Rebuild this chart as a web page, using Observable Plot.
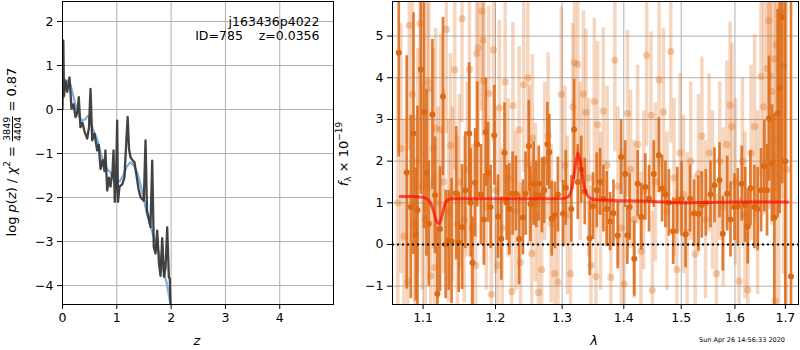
<!DOCTYPE html>
<html><head><meta charset="utf-8">
<script src="https://cdn.jsdelivr.net/npm/d3@7"></script>
<script src="https://cdn.jsdelivr.net/npm/@observablehq/plot@0.6"></script>
<style>
body{margin:0;background:#fff;}
#fig{position:relative;width:800px;height:350px;font-family:"DejaVu Sans",sans-serif;color:#000;overflow:hidden;background:#fff}
.panel{position:absolute;top:0}
.lbl{position:absolute;font-size:13px;white-space:nowrap;line-height:1}
.rot{transform:translate(-50%,-50%) rotate(-90deg);}
.ctr{transform:translate(-50%,-50%);}
.frac{display:inline-flex;flex-direction:column;vertical-align:middle;font-size:9.5px;line-height:1;text-align:center;margin:0 1px}
.frac .den{border-top:0.8px solid #000}
sup,sub{font-size:9px;line-height:0}
</style></head><body><div id="fig"></div>
<script>
// ---------- Left panel: redshift PDF ----------
const zTicks = [0, 1, 2, 3, 4];
const pTicks = [-4, -3, -2, -1, 0, 1, 2];
const zBlack = [0.000,0.015,0.028,0.055,0.087,0.129,0.166,0.203,0.240,0.276,0.300,0.330,0.368,0.405,0.455,0.488,0.516,0.547,0.589,0.639,0.668,0.700,0.737,0.773,0.790,0.823,0.856,0.884,0.921,0.939,0.963,0.985,1.007,1.022,1.050,1.100,1.140,1.180,1.200,1.225,1.252,1.289,1.326,1.363,1.400,1.436,1.497,1.529,1.556,1.593,1.620,1.652,1.681,1.713,1.744,1.777,1.805,1.836,1.869,1.897,1.928,1.958,1.976,1.989];
const logpBlack = [0.00,1.57,0.30,0.66,0.40,0.73,0.02,0.12,-0.17,-0.05,0.28,-0.40,-0.30,-0.50,-0.66,-0.40,0.47,-0.70,-0.55,-0.93,-0.80,-1.35,-1.15,-1.40,-0.93,-1.84,-1.55,-1.75,-1.40,-0.93,-2.10,-1.60,-0.25,-2.10,-1.75,-1.70,-1.55,-0.60,-0.17,-0.90,-1.08,-1.15,-1.20,-1.50,-1.80,-1.99,-2.07,-0.70,-2.30,-2.50,-2.67,-1.16,-3.13,-3.27,-2.75,-3.50,-3.78,-2.92,-3.80,-3.60,-2.68,-3.80,-3.85,-4.45];
const zSmooth = [0.00,0.02,0.06,0.10,0.15,0.20,0.25,0.30,0.36,0.42,0.47,0.52,0.58,0.64,0.70,0.76,0.82,0.88,0.94,1.00,1.06,1.12,1.18,1.25,1.32,1.38,1.44,1.50,1.56,1.62,1.68,1.74,1.80,1.86,1.92,1.97,2.00];
const logpSmooth = [0.30,0.45,0.60,0.66,0.55,0.30,0.05,-0.15,-0.25,-0.22,-0.14,-0.30,-0.50,-0.68,-0.98,-1.20,-1.35,-1.42,-1.58,-1.65,-1.62,-1.50,-1.30,-1.20,-1.28,-1.45,-1.72,-2.05,-2.40,-2.65,-2.90,-3.10,-3.35,-3.65,-3.95,-4.30,-4.45];
const annotName = "j163436p4022";
const annotId = "ID=785\u00a0\u00a0\u00a0\u00a0z=0.0356";

// ---------- Right panel: spectrum ----------
const lamTicks = [1.1, 1.2, 1.3, 1.4, 1.5, 1.6, 1.7];
const fTicks = [-1, 0, 1, 2, 3, 4, 5];
const lamDark = [1.0683,1.0786,1.0839,1.0874,1.0904,1.0926,1.0970,1.1013,1.1045,1.1075,
1.1124,1.1159,1.1191,1.1226,1.1266,1.1302,1.1343,1.1383,1.1446,1.1481,
1.1528,1.1572,1.1627,1.1647,1.1672,1.1709,1.1740,1.1791,1.1833,1.1861,
1.1893,1.1930,1.1982,1.2037,1.2084,1.2131,1.2162,1.2201,1.2249,1.2297,
1.2345,1.2402,1.2442,1.2490,1.2515,1.2563,1.2603,1.2640,1.2688,1.2722,
1.2772,1.2802,1.2838,1.2888,1.2934,1.3015,1.3057,1.3144,1.3188,1.3247,
1.3302,1.3358,1.3438,1.3492,1.3552,1.3606,1.3661,1.3716,1.3771,1.3827,
1.3899,1.3955,1.4023,1.4060,1.4098,1.4177,1.4235,1.4297,1.4366,1.4431,
1.4513,1.4601,1.4659,1.4718,1.4779,1.4856,1.4928,1.5006,1.5079,1.5160,
1.5233,1.5313,1.5375,1.5449,1.5537,1.5612,1.5706,1.5769,1.5852,1.5915,
1.5992,1.6055,1.6132,1.6198,1.6248,1.6301,1.6379,1.6444,1.6511,1.6576,
1.6630,1.6670,1.6730,1.6776,1.6842,1.6883,1.6937,1.6998,1.7115];
const fluxDark = [4.6,1.73,0.9,2.66,0.24,0.82,4.2,3.18,1.72,0.5,
3.12,1.18,-1.18,0.37,3.55,0.0,0.1,0.08,1.23,0.05,
0.42,1.3,2.66,1.0,-0.44,1.48,2.4,1.2,0.6,2.69,
1.73,0.9,2.62,0.67,0.14,2.2,1.0,0.85,1.22,1.22,
0.13,0.65,1.22,2.36,0.97,1.46,1.2,1.46,1.18,1.3,
2.41,2.22,0.62,0.7,1.2,0.74,1.36,0.85,2.76,1.5,
1.8,1.27,0.15,0.92,1.3,1.5,1.1,0.85,0.55,0.75,
0.215,2.1,1.69,0.22,0.9,-0.34,1.46,0.66,1.38,1.1,
1.69,2.14,1.34,1.2,1.0,0.32,1.05,1.1,0.24,1.1,
0.75,0.74,0.95,1.0,1.2,1.42,1.54,0.26,1.22,0.6,
0.9,0.92,1.46,0.95,0.43,1.35,0.9,0.85,1.3,1.88,
1.3,3.02,1.95,0.64,3.14,3.74,5.46,2.0,-0.77];
const errDark = [2.5,2.8,2.2,2.9,1.6,2.5,3.0,2.8,2.0,1.5,
1.8,1.4,1.6,1.5,1.9,1.3,1.2,1.5,1.6,1.2,
1.5,1.4,1.7,1.3,1.1,1.3,1.5,1.2,1.1,1.3,
1.2,1.0,1.2,1.0,1.0,1.2,0.9,1.1,1.0,0.9,
1.1,0.9,1.0,1.1,0.9,1.0,0.8,0.9,0.9,0.8,
1.0,0.9,0.9,0.8,0.9,0.8,0.9,0.8,1.2,0.9,
0.8,0.8,0.9,0.8,0.9,0.8,0.8,0.9,0.7,0.8,
0.8,0.9,0.8,0.7,0.8,0.9,0.8,0.8,0.8,0.8,
0.8,0.9,0.8,0.8,0.8,0.8,0.8,0.9,0.8,0.8,
0.8,0.9,0.8,0.8,0.8,0.9,0.9,0.9,0.9,0.9,
0.8,0.9,0.9,0.9,0.9,0.9,1.0,1.0,1.0,1.1,
1.1,1.5,1.4,2.5,2.5,3.0,4.0,5.0,8.0];
const lamLight = [1.0671,1.0710,1.0750,1.0797,1.0818,1.0861,1.0891,1.0930,1.0961,1.0989,
1.1029,1.1058,1.1075,1.1102,1.1135,1.1155,1.1168,1.1201,1.1235,1.1275,
1.1311,1.1342,1.1369,1.1395,1.1427,1.1463,1.1490,1.1527,1.1558,1.1598,
1.1630,1.1668,1.1718,1.1732,1.1754,1.1801,1.1823,1.1833,1.1868,1.1903,
1.1940,1.1972,1.2000,1.2032,1.2056,1.2098,1.2140,1.2182,1.2235,1.2254,
1.2297,1.2345,1.2365,1.2413,1.2475,1.2500,1.2534,1.2545,1.2590,1.2635,
1.2684,1.2732,1.2784,1.2830,1.2886,1.2936,1.2987,1.3043,1.3082,1.3132,
1.3168,1.3194,1.3247,1.3286,1.3337,1.3378,1.3421,1.3459,1.3513,1.3539,
1.3567,1.3615,1.3659,1.3721,1.3784,1.3850,1.3903,1.3958,1.4007,1.4063,
1.4114,1.4174,1.4234,1.4291,1.4338,1.4390,1.4465,1.4488,1.4541,1.4606,
1.4683,1.4745,1.4813,1.4871,1.4921,1.4979,1.5043,1.5108,1.5173,1.5253,
1.5313,1.5378,1.5444,1.5510,1.5576,1.5648,1.5710,1.5777,1.5844,1.5906,
1.5941,1.6009,1.6081,1.6146,1.6194,1.6250,1.6313,1.6382,1.6442,1.6508,
1.6561,1.6628,1.6662,1.6692,1.6722,1.6783,1.6797,1.6809,1.6864,1.6919,
1.6966,1.7020];
const fluxLight = [1.0,2.3,0.2,-0.9,5.26,3.6,0.5,2.0,5.3,1.4,
0.6,3.9,3.74,-0.75,2.3,-0.55,2.79,1.0,2.75,1.5,
5.16,0.8,2.38,1.2,4.19,0.5,1.5,5.42,0.6,1.8,
4.2,0.4,-0.5,4.58,4.72,5.6,4.9,3.93,0.9,3.62,
-1.2,4.67,1.3,-0.5,3.28,0.4,3.9,1.6,-1.13,3.33,
0.8,2.75,-0.43,3.83,4.0,1.9,-0.22,2.55,1.0,-1.15,
-0.6,2.0,2.6,0.5,-0.7,-0.9,3.6,1.9,0.7,-0.7,
3.3,4.36,4.32,2.0,3.61,3.17,1.6,-0.5,3.43,-0.77,
2.87,0.8,3.2,1.9,-0.79,4.42,1.4,0.4,-0.95,3.14,
1.8,0.6,2.4,-0.16,1.3,4.54,3.10,-1.1,1.5,3.95,
3.18,0.8,4.63,1.6,-0.6,2.2,1.2,0.3,2.0,-0.23,
1.7,2.6,0.6,2.2,1.3,-0.7,2.0,0.9,2.4,3.34,
2.83,1.5,-0.88,2.0,0.7,-1.09,2.2,2.83,1.0,4.03,
3.3,4.22,5.37,4.04,3.67,4.45,-1.35,4.79,2.5,5.58,
4.28,1.8];
const errLight = [3.0,3.0,2.8,2.6,3.0,2.8,2.6,2.7,3.2,2.5,
2.4,2.6,2.5,2.3,2.4,2.3,2.4,2.3,2.3,2.2,
2.5,2.2,2.2,2.1,2.4,2.1,2.1,2.5,2.0,2.1,
2.3,2.0,2.0,2.3,2.3,2.4,2.3,2.2,2.0,2.1,
2.0,2.2,2.0,2.0,2.1,1.9,2.1,1.9,2.0,2.0,
1.9,2.0,1.9,2.1,2.1,1.9,1.9,2.0,1.9,1.9,
1.9,1.9,2.0,1.9,1.9,1.9,2.1,1.9,1.9,1.9,
2.0,2.2,2.2,1.9,2.0,2.0,1.9,1.9,2.0,1.9,
2.0,1.9,2.0,1.9,1.9,2.2,1.9,1.9,1.9,2.0,
1.9,1.9,1.9,1.9,1.9,2.2,2.0,1.9,1.9,2.1,
2.0,1.9,2.2,1.9,1.9,1.9,1.9,1.9,1.9,1.9,
1.9,1.9,1.9,1.9,1.9,1.9,1.9,1.9,2.0,2.0,
2.0,2.0,2.0,2.0,2.0,2.1,2.1,2.2,2.2,2.4,
2.6,2.8,3.0,3.2,3.2,3.5,3.5,3.5,4.0,4.5,
5.0,5.0];
const lamModel = [1.070,1.085,1.100,1.108,1.114,1.118,1.121,1.124,1.128,1.133,1.140,1.200,1.300,1.310,1.316,1.321,1.325,1.329,1.334,1.340,1.350,1.400,1.450,1.500,1.550,1.600,1.650,1.705];
const fluxModel = [1.15,1.15,1.13,1.05,0.80,0.55,0.50,0.60,0.90,1.07,1.10,1.10,1.10,1.15,1.40,1.90,2.20,1.95,1.45,1.18,1.08,1.05,1.03,1.00,1.01,1.02,1.02,1.02];
const timestamp = "Sun Apr 26 14:56:33 2020";

// ---------- build tables ----------
const black = zBlack.map((z, i) => ({z, p: logpBlack[i]}));
const smooth = zSmooth.map((z, i) => ({z, p: logpSmooth[i]}));
const dark = lamDark.map((lam, i) => ({lam, f: fluxDark[i], e: errDark[i]}));
const light = lamLight.map((lam, i) => ({lam, f: fluxLight[i], e: errLight[i]}));
const model = lamModel.map((lam, i) => ({lam, f: fluxModel[i]}));

const fmt = d => (d < 0 ? "\u2212" : "") + Math.abs(d);
const GRID = "#b0b0b0";
const ORANGE = "#dc6914";
const style = {fontFamily: "DejaVu Sans", fontSize: "12.5px", background: "transparent", color: "#000"};

const leftPlot = Plot.plot({
  width: 345, height: 350,
  marginLeft: 62, marginRight: 12, marginTop: 1, marginBottom: 46,
  style,
  x: {domain: [0, 4.99], ticks: zTicks, tickFormat: fmt, tickSize: 5, tickPadding: 4, label: null},
  y: {domain: [-4.43, 2.455], ticks: pTicks, tickFormat: fmt, tickSize: 5, tickPadding: 4, label: null},
  marks: [
    Plot.ruleX(zTicks, {x: d => d, stroke: GRID, strokeWidth: 1}),
    Plot.ruleY(pTicks, {y: d => d, stroke: GRID, strokeWidth: 1}),
    Plot.line(smooth, {x: "z", y: "p", stroke: "#7fb0da", strokeWidth: 2.2, clip: true}),
    Plot.line(black, {x: "z", y: "p", stroke: "#333333", strokeWidth: 2.3, strokeOpacity: 0.92, clip: true}),
    Plot.text([annotName], {text: d => d, frameAnchor: "top-right", textAnchor: "end", lineAnchor: "middle", dx: -14, dy: 20}),
    Plot.text([annotId], {text: d => d, frameAnchor: "top-right", textAnchor: "end", lineAnchor: "middle", dx: -14, dy: 34}),
    Plot.frame({stroke: "black", strokeWidth: 1})
  ]
});

const rightPlot = Plot.plot({
  width: 455, height: 350,
  marginLeft: 47, marginRight: 2, marginTop: 1, marginBottom: 46,
  style,
  x: {type: "log", domain: [1.0603, 1.727], ticks: lamTicks, tickFormat: d => d.toFixed(1), tickSize: 5, tickPadding: 4, label: null},
  y: {domain: [-1.44, 5.83], ticks: fTicks, tickFormat: fmt, tickSize: 5, tickPadding: 4, label: null},
  marks: [
    Plot.ruleX(lamTicks, {x: d => d, stroke: GRID, strokeWidth: 1}),
    Plot.ruleY(fTicks, {y: d => d, stroke: GRID, strokeWidth: 1}),
    Plot.ruleX(light, {x: "lam", y1: d => d.f - d.e, y2: d => d.f + d.e, stroke: ORANGE, strokeOpacity: 0.27, strokeWidth: 3.5, clip: true}),
    Plot.dot(light, {x: "lam", y: "f", r: 3.6, fill: ORANGE, fillOpacity: 0.32, stroke: "none", clip: true}),
    Plot.ruleX(dark, {x: "lam", y1: d => d.f - d.e, y2: d => d.f + d.e, stroke: ORANGE, strokeOpacity: 0.85, strokeWidth: 2.7, clip: true}),
    Plot.dot(dark, {x: "lam", y: "f", r: 3, fill: ORANGE, stroke: "none", clip: true}),
    Plot.ruleY([0], {y: d => d, stroke: "black", strokeWidth: 1.8, strokeDasharray: "2,3"}),
    Plot.line(model, {x: "lam", y: "f", stroke: "red", strokeOpacity: 0.65, strokeWidth: 3, curve: "monotone-x", clip: true}),
    Plot.frame({stroke: "black", strokeWidth: 1})
  ]
});

const fig = document.getElementById("fig");
function place(node, left) {
  const w = document.createElement("div");
  w.className = "panel";
  w.style.left = left + "px";
  w.appendChild(node);
  fig.appendChild(w);
}
place(leftPlot, 0);
place(rightPlot, 345);

function label(html, x, y, cls, extra) {
  const d = document.createElement("div");
  d.className = "lbl " + cls;
  d.style.left = x + "px";
  d.style.top = y + "px";
  if (extra) Object.assign(d.style, extra);
  d.innerHTML = html;
  fig.appendChild(d);
}
label('log\u00a0<i>p</i>(<i>z</i>)\u00a0/\u00a0<i>χ</i><sup>2</sup>\u00a0=\u00a0<span class="frac"><span>3849</span><span class="den">4404</span></span>\u00a0=\u00a00.87', 12, 152, "rot");
label('<i>z</i>', 197, 340, "ctr");
label('<i>f</i><sub>λ</sub>\u00a0×\u00a010<sup>\u221219</sup>', 343, 154, "rot");
label('<i>λ</i>', 594, 340, "ctr");
label(timestamp, 742, 340, "ctr", {fontSize: "6.5px"});
</script></body></html>
